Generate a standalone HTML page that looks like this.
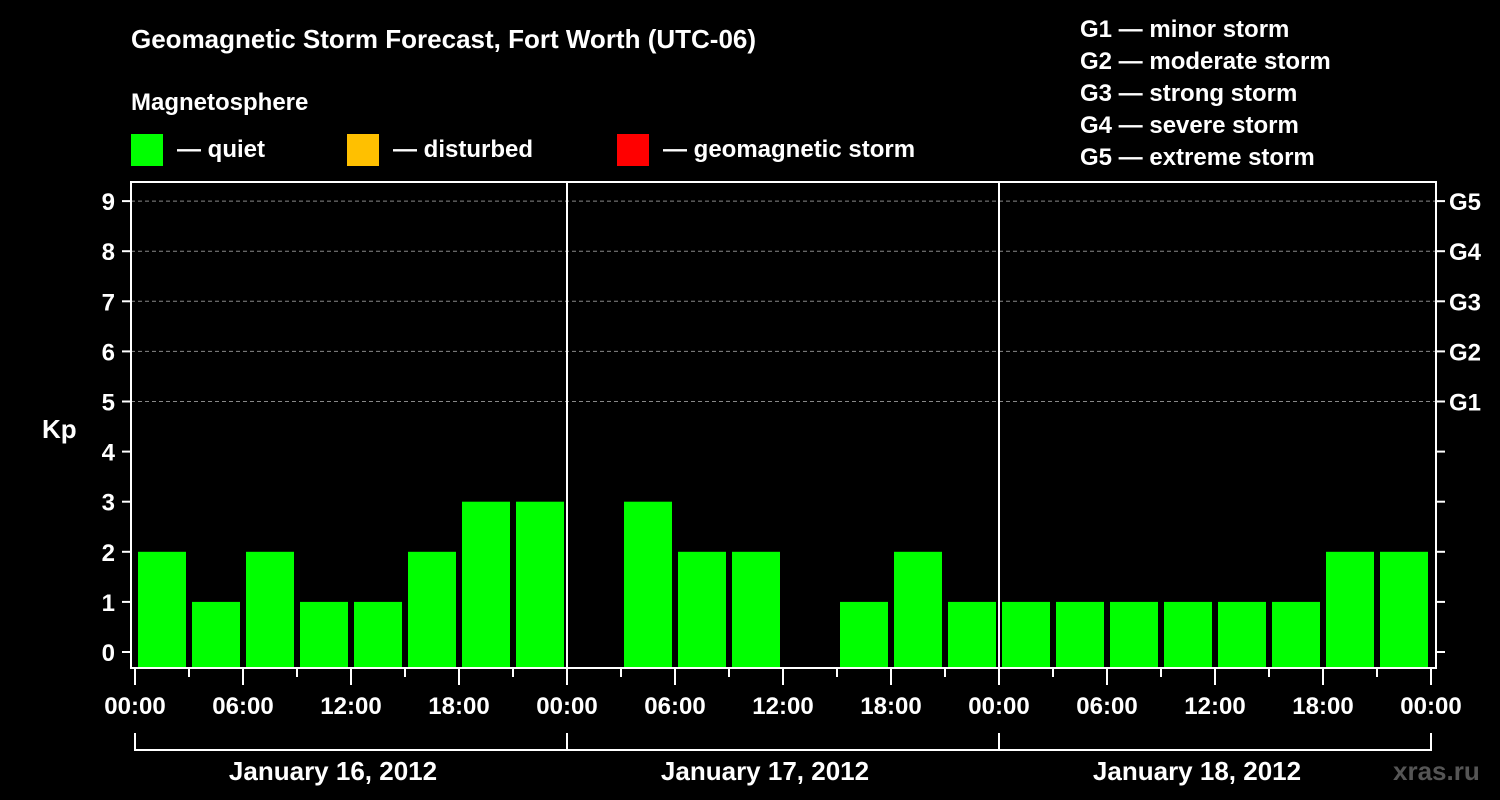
<!DOCTYPE html>
<html><head><meta charset="utf-8"><style>
html,body{margin:0;padding:0;background:#000;width:1500px;height:800px;overflow:hidden}
svg text{font-family:"Liberation Sans",sans-serif;font-weight:bold;fill:#fff}
</style></head><body>
<svg id="chart" width="1500" height="800" xmlns="http://www.w3.org/2000/svg">
<text x="131" y="48" font-size="26">Geomagnetic Storm Forecast, Fort Worth (UTC-06)</text>
<text x="131" y="110" font-size="24">Magnetosphere</text>
<g font-size="24">
<rect x="131" y="134" width="32" height="32" fill="#00ff00"/>
<text x="177" y="157">— quiet</text>
<rect x="347" y="134" width="32" height="32" fill="#ffc000"/>
<text x="393" y="157">— disturbed</text>
<rect x="617" y="134" width="32" height="32" fill="#ff0000"/>
<text x="663" y="157">— geomagnetic storm</text>
</g>
<g font-size="24">
<text x="1080" y="37">G1 — minor storm</text>
<text x="1080" y="69">G2 — moderate storm</text>
<text x="1080" y="101">G3 — strong storm</text>
<text x="1080" y="133">G4 — severe storm</text>
<text x="1080" y="165">G5 — extreme storm</text>
</g>
<g id="grid"></g><g id="bars"></g><g id="axes"></g>
<text x="42" y="438" font-size="26">Kp</text>
<text x="1393" y="780" font-size="26" fill="#555" style="fill:#555">xras.ru</text>
</svg>
<script>
const days = ["January 16, 2012","January 17, 2012","January 18, 2012"];
const kpValues = [2,1,2,1,1,2,3,3, 0,3,2,2,0,1,2,1, 1,1,1,1,1,1,2,2];
const yTicks = [0,1,2,3,4,5,6,7,8,9];
const gLabels = ["G1","G2","G3","G4","G5"];
const xTickLabels = ["00:00","06:00","12:00","18:00"];
const NS="http://www.w3.org/2000/svg";
const L=131,R=1436,T=182,B=668,X0=135,DAYW=432;
function y(k){return 652-50.1*k;}
function x(slot){return X0+slot*(DAYW/8);}
function mk(tag,attrs,parent){const e=document.createElementNS(NS,tag);for(const k in attrs)e.setAttribute(k,attrs[k]);document.getElementById(parent).appendChild(e);return e;}
yTicks.forEach(k=>{
  if(k>=5){const g=mk('line',{x1:L,x2:R,y1:y(k),y2:y(k),stroke:'#888','stroke-dasharray':'4,3','stroke-width':1},'grid');
  
  }
  const t=mk('line',{x1:L-9,x2:L,y1:y(k),y2:y(k),stroke:'#fff','stroke-width':2},'axes');
  
  
  const t2=mk('line',{x1:R,x2:R+9,y1:y(k),y2:y(k),stroke:'#fff','stroke-width':2},'axes');
  
  
  const lb=mk('text',{x:L-16,y:y(k)+9,'font-size':24,'text-anchor':'end'},'axes');lb.textContent=k;
  
  
});
gLabels.forEach((g,i)=>{const lb=mk('text',{x:R+13,y:y(i+5)+9,'font-size':24},'axes');lb.textContent=g;
  
  });
kpValues.forEach((v,i)=>{ if(v<=0)return;
  const r=mk('rect',{x:x(i)+3,y:y(v),width:48,height:B-1-y(v),fill:'#00ff00'},'bars');
  
  });
const fr=mk('rect',{x:L,y:T,width:R-L,height:B-T,fill:'none',stroke:'#fff','stroke-width':2},'axes');


for(let d=1;d<days.length;d++){const l=mk('line',{x1:X0+d*DAYW,x2:X0+d*DAYW,y1:T,y2:B,stroke:'#fff','stroke-width':2},'axes');
  
  }
for(let s=0;s<=24;s++){const major=s%2==0;
  const l=mk('line',{x1:x(s),x2:x(s),y1:B,y2:B+(major?17:9),stroke:'#fff','stroke-width':2},'axes');
  
  
  if(major){const lb=mk('text',{x:x(s),y:714,'font-size':24,'text-anchor':'middle'},'axes');
    lb.textContent=xTickLabels[(s/2)%4];
    
    }}
const br=mk('path',{d:'',fill:'none',stroke:'#fff','stroke-width':2},'axes');
let d='M'+X0+',733 L'+X0+',750 L'+(X0+days.length*DAYW)+',750 L'+(X0+days.length*DAYW)+',733';
for(let i=1;i<days.length;i++)d+=' M'+(X0+i*DAYW)+',733 L'+(X0+i*DAYW)+',750';
br.setAttribute('d',d);


days.forEach((dd,i)=>{const lb=mk('text',{x:X0+i*DAYW+DAYW/2-18,y:780,'font-size':26,'text-anchor':'middle'},'axes');lb.textContent=dd;
  
  });
</script>
</body></html>
